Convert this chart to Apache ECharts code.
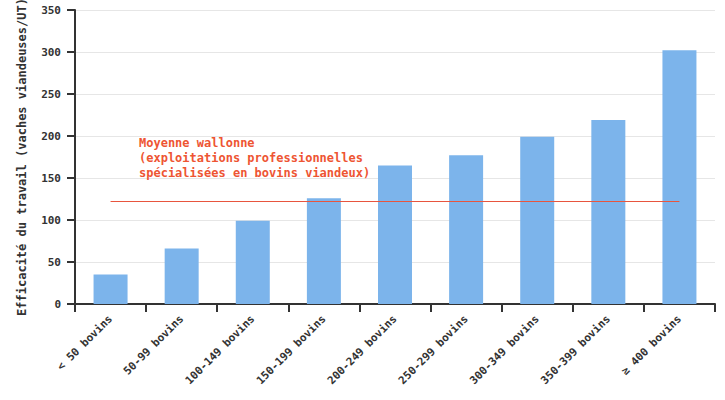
<!DOCTYPE html>
<html>
<head>
<meta charset="utf-8">
<script src="https://cdn.jsdelivr.net/npm/echarts@6/dist/echarts.min.js"></script>
<style>
  html, body { margin: 0; padding: 0; background: #fff; }
  #chart { width: 725px; height: 400px; }
</style>
</head>
<body>
<div id="chart"></div>
<script>
const categories = ['< 50 bovins', '50-99 bovins', '100-149 bovins', '150-199 bovins', '200-249 bovins',
  '250-299 bovins', '300-349 bovins', '350-399 bovins', '≥ 400 bovins']
const values = [35, 66, 99, 126, 165, 177, 199, 219, 302]
const moyenne = 122
const yTicks = { min: 0, max: 350, interval: 50 }

const font = 'DejaVu Sans Mono'
const chart = echarts.init(document.getElementById('chart'), null, { renderer: 'svg' })

chart.setOption({
  animation: false,
  grid: { left: 75, right: 10, top: 10, bottom: 96, outerBoundsMode: 'none', containLabel: false },
  xAxis: {
    type: 'category',
    data: categories,
    axisLine: { lineStyle: { color: '#333', width: 2 } },
    axisTick: { show: true, length: 8, lineStyle: { color: '#333', width: 2 } },
    axisLabel: { rotate: 45, fontFamily: font, fontWeight: 'bold', fontSize: 11, color: '#333', margin: 13 }
  },
  yAxis: {
    type: 'value',
    min: yTicks.min,
    max: yTicks.max,
    interval: yTicks.interval,
    name: 'Efficacité du travail (vaches viandeuses/UT)',
    nameLocation: 'middle',
    nameGap: 47,
    nameTextStyle: { fontFamily: font, fontWeight: 'bold', fontSize: 12, color: '#333' },
    axisLine: { show: true, lineStyle: { color: '#333', width: 2 } },
    axisTick: { show: true, length: 8, lineStyle: { color: '#333', width: 2 } },
    axisLabel: { fontFamily: font, fontWeight: 'bold', fontSize: 11, color: '#333', margin: 14 },
    splitLine: { lineStyle: { color: '#e6e6e6' } }
  },
  series: [{
    type: 'bar',
    data: values,
    barWidth: 34,
    itemStyle: { color: '#7cb4eb' },
    markLine: {
      symbol: 'none',
      silent: true,
      label: { show: false },
      lineStyle: { color: '#e8553e', width: 1, type: 'solid' },
      data: [[
        { coord: [categories[0], moyenne] },
        { coord: [categories[categories.length - 1], moyenne] }
      ]]
    }
  }],
  graphic: [{
    type: 'text',
    left: 139,
    top: 135,
    z: 100,
    style: {
      text: 'Moyenne wallonne\n(exploitations professionnelles\nspécialisées en bovins viandeux)',
      fill: '#ee5533',
      font: 'bold 12px "DejaVu Sans Mono"',
      lineHeight: 15
    }
  }]
})
</script>
</body>
</html>
